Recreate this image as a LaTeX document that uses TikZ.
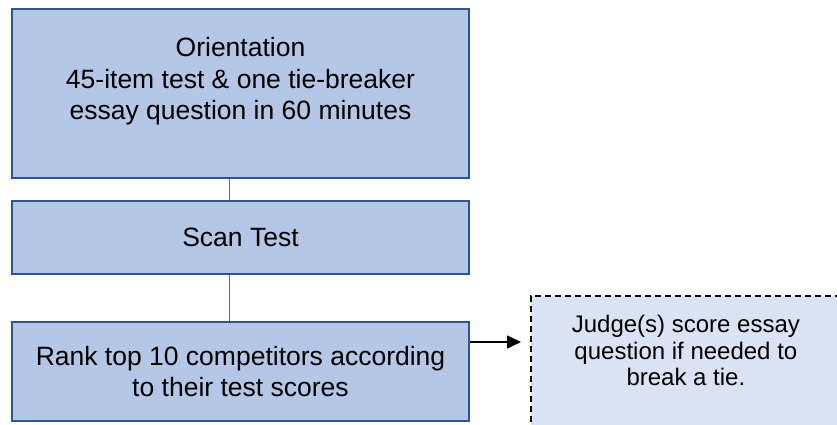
\documentclass[tikz,border=0pt]{standalone}
\usepackage{fontspec}
\setmainfont{Liberation Sans}
\usetikzlibrary{arrows.meta}
\definecolor{boxfill}{HTML}{B4C7E7}
\definecolor{boxline}{HTML}{2F5597}
\definecolor{notefill}{HTML}{DAE3F3}
\definecolor{linkline}{HTML}{3F6FD0}
\begin{document}
\begin{tikzpicture}[x=1pt,y=1pt,
        stepbox/.style={draw=boxline, fill=boxfill, line width=2pt, inner sep=0pt,
            minimum width=457pt, align=center, anchor=north west,
            font=\fontsize{26.5}{31.5}\selectfont},
        notebox/.style={draw=black, fill=notefill, line width=1.8pt, dash pattern=on 6pt off 4pt,
            inner sep=0pt, minimum width=310pt, align=center, anchor=north west,
            font=\fontsize{24}{26.5}\selectfont},
        link/.style={draw=linkline, line width=1.1pt},
        arrow/.style={draw=black, line width=1.4pt, -{Triangle[length=14pt,width=13pt]}}]
            \useasboundingbox (0,0) rectangle (837,425);
            \clip (0,0) rectangle (837,425);

            \node[stepbox, text height=111pt, text depth=58pt] (orient) at (11,417)
                {Orientation\\45-item test \& one tie-breaker\\essay question in 60 minutes};
            \node[stepbox, minimum height=73pt] (scan) at (11,225) {Scan Test};
            \node[stepbox, text height=75pt, text depth=24pt] (rank) at (11,104)
                {Rank top 10 competitors according\\to their test scores};
            % the note runs off the page at right and bottom
            \node[notebox, text height=90pt, text depth=80pt] (judge) at (530,130)
                {Judge(s) score essay\\question if needed to\\break a tie.};

            \draw[link] ([xshift=-11pt]orient.south) -- ([xshift=-11pt]scan.north);
            \draw[link] ([xshift=-11pt]scan.south) -- ([xshift=-11pt]rank.north);
            % \draw[arrow] (rank.east) -- (judge.west);
            \draw[arrow, shorten >=9pt] ([yshift=-21pt]rank.north east) -- ([yshift=-21pt]rank.north east -| judge.west);
        \end{tikzpicture}
\end{document}
